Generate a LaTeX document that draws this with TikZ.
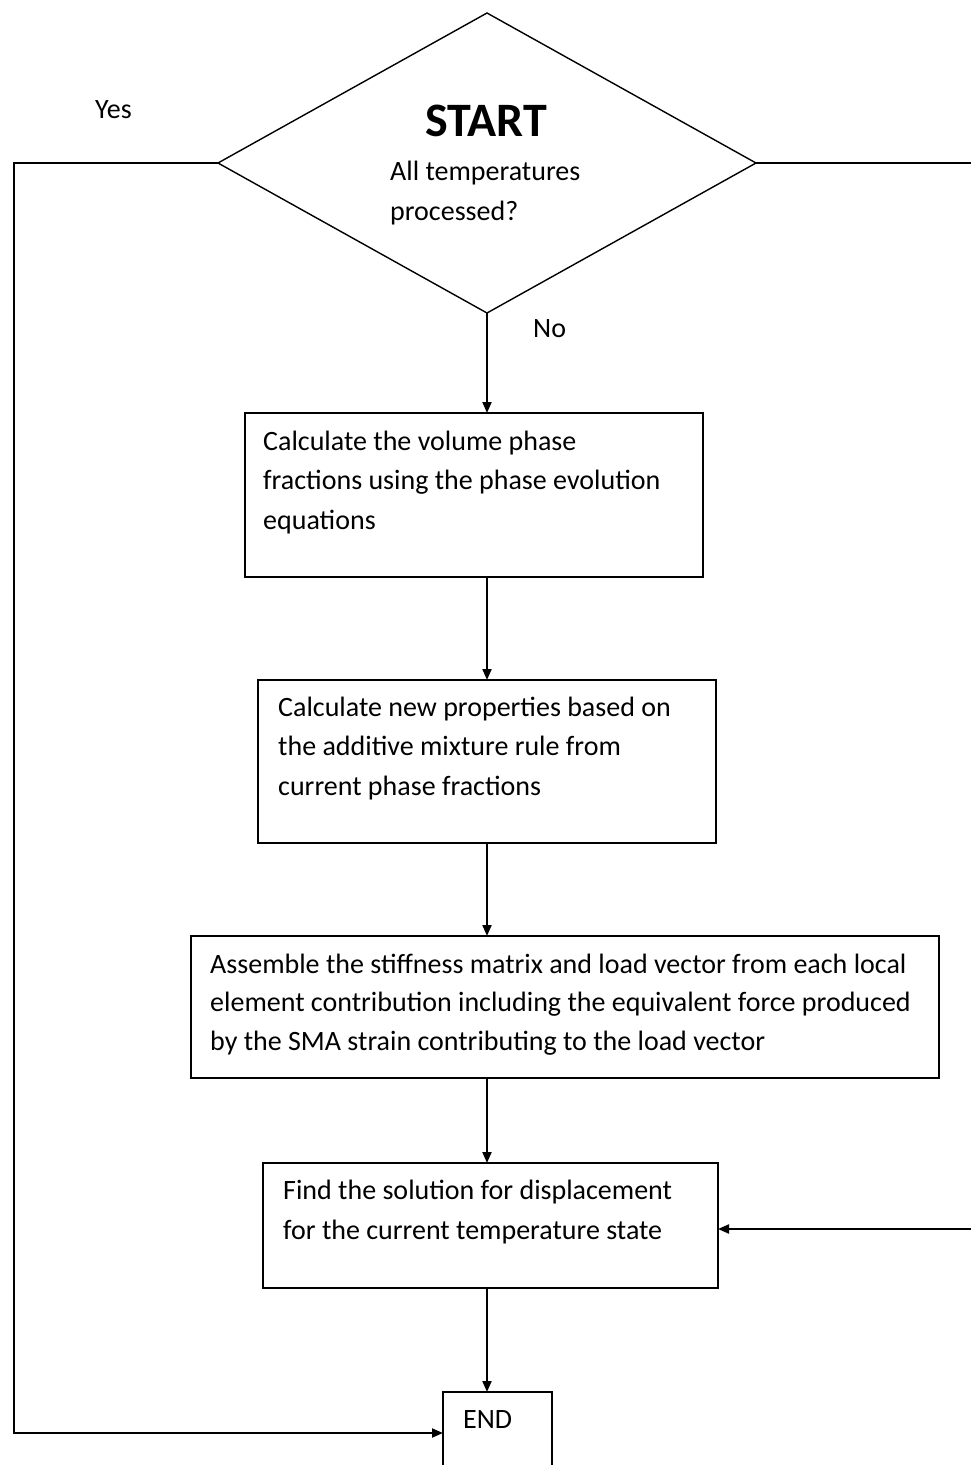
\documentclass[tikz,border=0pt]{standalone}
\usepackage{fontspec}
\setmainfont{Carlito}
\usetikzlibrary{arrows.meta,calc}
\begin{document}
\begin{tikzpicture}[x=1pt,y=-1pt,
  box/.style={draw,line width=2pt,rectangle,inner sep=0pt,outer sep=0pt,anchor=north west},
  txt/.style={anchor=base west,align=left,inner sep=0pt,font=\fontsize{28}{39.5}\selectfont},
  conn/.style={line width=2pt},
  arr/.style={conn,-{Triangle[length=11pt,width=9pt]}}]
\clip (0,0) rectangle (971,1465);
% decision
\coordinate (dT) at (487,13);
\coordinate (dR) at (756,163);
\coordinate (dB) at (487,313);
\coordinate (dL) at (218,163);
\draw[line width=1.4pt] (dT) -- (dR) -- (dB) -- (dL) -- cycle;
\node[anchor=base,inner sep=0pt,font=\fontsize{48}{52}\selectfont\bfseries] (start) at (486,136) {START};
\node[txt,font=\fontsize{28}{40}\selectfont] (q) at (390,220) {All temperatures\\processed?};
% boxes
\node[box,minimum width=458pt,minimum height=164pt] (b1) at (245,413) {};
\node[txt] (t1) at (263,529) {Calculate the volume phase\\fractions using the phase evolution\\equations};
\node[box,minimum width=458pt,minimum height=163pt] (b2) at (258,680) {};
\node[txt] (t2) at (278,795) {Calculate new properties based on\\the additive mixture rule from\\current phase fractions};
\node[box,minimum width=748pt,minimum height=142pt] (b3) at (191,936) {};
\node[txt,font=\fontsize{28}{38.5}\selectfont] (t3) at (210,1050) {Assemble the stiffness matrix and load vector from each local\\element contribution including the equivalent force produced\\by the SMA strain contributing to the load vector};
\node[box,minimum width=455pt,minimum height=125pt] (b4) at (263,1163) {};
\node[txt] (t4) at (283,1239) {Find the solution for displacement\\for the current temperature state};
\node[box,minimum width=109pt,minimum height=110pt] (endb) at (443,1392) {};
\node[txt] (te) at (463,1428) {END};
% labels
\node[txt] (yes) at (95,118) {Yes};
\node[txt] (no) at (533,337) {No};
% connectors
\draw[arr] (dB) -- (dB |- b1.north);
\draw[arr] (dB |- b1.south) -- (dB |- b2.north);
\draw[arr] (dB |- b2.south) -- (dB |- b3.north);
\draw[arr] (dB |- b3.south) -- (dB |- b4.north);
\draw[arr] (dB |- b4.south) -- (dB |- endb.north);
\coordinate (rout) at (971,163);
\draw[conn] (dR) -- (rout);
\coordinate (rin) at (971,1229);
\draw[arr] (rin) -- (rin -| b4.east);
\coordinate (lc) at (14,1433);
\draw[arr] (dL) -| (lc) -- (lc -| endb.west);
\end{tikzpicture}
\end{document}
